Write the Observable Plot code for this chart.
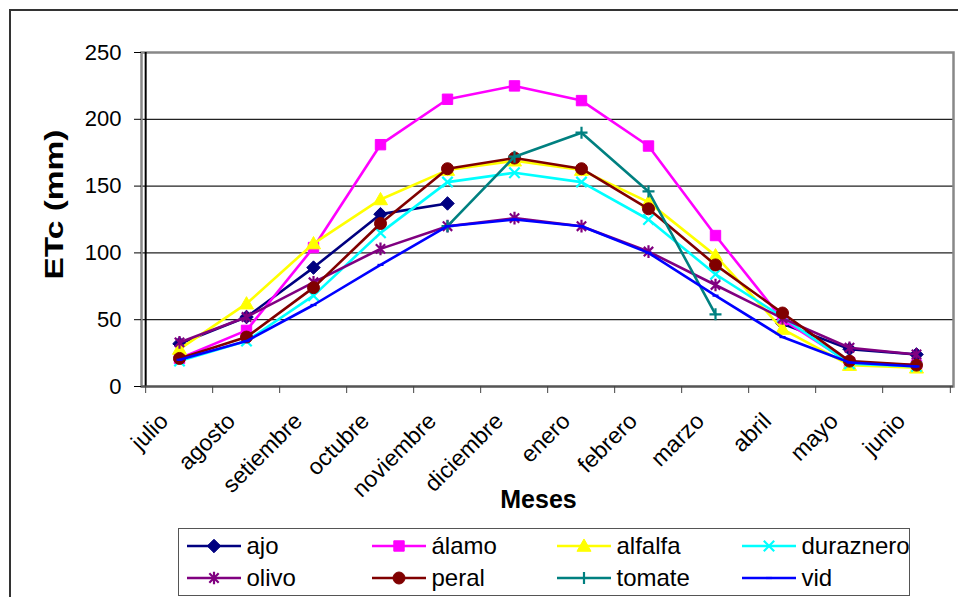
<!DOCTYPE html>
<html><head><meta charset="utf-8">
<script src="https://cdn.jsdelivr.net/npm/d3@7"></script>
<script src="https://cdn.jsdelivr.net/npm/@observablehq/plot@0.6"></script>
<style>
html,body{margin:0;padding:0;background:#fff;overflow:hidden;}
#wrap{position:relative;width:958px;height:597px;overflow:hidden;font-family:"Liberation Sans",Arial,sans-serif;}
#border{position:absolute;left:9px;top:9px;width:1000px;height:700px;border:2px solid #333;box-sizing:border-box;}
#chart{position:absolute;left:0;top:0;}
#legend{position:absolute;left:178px;top:528px;width:732px;height:68px;border:1.5px solid #555;box-sizing:border-box;background:#fff;}
.item{position:absolute;height:30px;display:flex;align-items:center;font-size:24px;color:#000;white-space:nowrap;}
.item span{margin-left:6px;}
</style></head><body>
<div id="wrap"><div id="border"></div><div id="chart"></div><div id="legend"></div></div>
<script>
// ---- data ----
const months = ["julio","agosto","setiembre","octubre","noviembre","diciembre","enero","febrero","marzo","abril","mayo","junio"];
const yTicks = [0, 50, 100, 150, 200, 250];
const seriesNames = ["ajo","álamo","alfalfa","duraznero","olivo","peral","tomate","vid"];
const ajo       = [32, 52, 89, 129, 137, null, null, null, null, 47, 28, 24];
const alamo     = [21, 42, 104, 181, 215, 225, 214, 180, 113, 50, 18, 16];
const alfalfa   = [28, 62, 107, 140, 162, 169, 162, 138, 98, 43, 16, 14];
const duraznero = [19, 34, 68, 115, 153, 160, 153, 125, 84, 52, 17, 15];
const olivo     = [33, 52, 78, 103, 120, 126, 120, 101, 76, 51, 29, 24];
const peral     = [21, 37, 74, 122, 163, 171, 163, 133, 91, 55, 19, 16];
const tomate    = [null, null, null, null, 120, 172, 190, 146, 54, null, null, null];
const vid       = [20, 34, 61, 91, 120, 125, 120, 100, 68, 37, 18, 15];
const seriesValues = [ajo, alamo, alfalfa, duraznero, olivo, peral, tomate, vid];
const colors = ["#000080","#FF00FF","#FFFF00","#00FFFF","#800080","#800000","#008080","#0000FF"];

// ---- marker symbols ----
const rad = size => Math.sqrt(size / Math.PI);
const symDiamond = {draw(c, s){const r = rad(s)*1.3; c.moveTo(0,-r); c.lineTo(r,0); c.lineTo(0,r); c.lineTo(-r,0); c.closePath();}};
const symSquare = {draw(c, s){const r = rad(s); c.rect(-r,-r,2*r,2*r);}};
const symTriangle = {draw(c, s){const r = rad(s)*1.3; c.moveTo(0,-r); c.lineTo(r,r*0.75); c.lineTo(-r,r*0.75); c.closePath();}};
const symTimes = {draw(c, s){const r = rad(s); c.moveTo(-r,-r); c.lineTo(r,r); c.moveTo(r,-r); c.lineTo(-r,r);}};
const symAsterisk = {draw(c, s){const r = rad(s), a = r*0.85; c.moveTo(-a,-a); c.lineTo(a,a); c.moveTo(a,-a); c.lineTo(-a,a); c.moveTo(0,-r*1.15); c.lineTo(0,r*1.15);}};
const symCircle = {draw(c, s){const r = rad(s); c.moveTo(r,0); c.arc(0,0,r,0,2*Math.PI);}};
const symPlus = {draw(c, s){const r = rad(s); c.moveTo(-r,0); c.lineTo(r,0); c.moveTo(0,-r); c.lineTo(0,r);}};
const symDash = {draw(c, s){const r = rad(s); c.moveTo(-r,0); c.lineTo(r,0);}};
const markers = [
  {sym: symDiamond, r: 5.2, filled: true},
  {sym: symSquare, r: 5.2, filled: true},
  {sym: symTriangle, r: 5.4, filled: true},
  {sym: symTimes, r: 5.2, filled: false},
  {sym: symAsterisk, r: 5.5, filled: false},
  {sym: symCircle, r: 6, filled: true},
  {sym: symPlus, r: 6, filled: false},
  {sym: symDash, r: 3, filled: false}
];

// ---- layout ----
const W = 958, H = 520, mL = 141, mR = 5, mT = 52, mB = 134;
const step = (W - mL - mR) / months.length;
const font = '"Liberation Sans", Arial, sans-serif';

const seriesMarks = [];
seriesNames.forEach((name, i) => {
  const rows = months.map((m, j) => ({serie: name, month: m, value: seriesValues[i][j] == null ? NaN : seriesValues[i][j]}));
  const mk = markers[i];
  seriesMarks.push(Plot.line(rows, {x: "month", y: "value", stroke: colors[i], strokeWidth: 2.6}));
  seriesMarks.push(Plot.dot(rows.filter(d => !isNaN(d.value)), {
    x: "month", y: "value", symbol: mk.sym, r: mk.r,
    fill: mk.filled ? colors[i] : "none", stroke: colors[i], strokeWidth: mk.filled ? 1 : 2.2
  }));
});

const chart = Plot.plot({
  width: W, height: H,
  marginLeft: mL, marginRight: mR, marginTop: mT, marginBottom: mB,
  style: {fontFamily: font, background: "transparent", color: "#000", overflow: "visible"},
  x: {type: "point", domain: months, padding: 0.5, align: 0.5},
  y: {domain: [0, 250]},
  marks: [
    Plot.ruleY(yTicks.filter(d => d > 0), {stroke: "#222", strokeWidth: 1.2}),
    Plot.frame({stroke: "#888", strokeWidth: 2.5}),
    Plot.ruleX([months[0]], {dx: -step / 2, stroke: "#000", strokeWidth: 2}),
    Plot.ruleY([0], {stroke: "#555", strokeWidth: 2}),
    Plot.axisY({ticks: yTicks, tickSize: 7, tickPadding: 13, fontSize: 22, label: null}),
    Plot.axisX({ticks: months, tickSize: 7, tickFormat: () => "", dx: -step / 2, label: null, stroke: "#444"}),
    Plot.axisX({ticks: [months[months.length - 1]], tickSize: 7, tickFormat: () => "", dx: step / 2, label: null, stroke: "#444"}),
    Plot.text(months, {x: d => d, text: d => d, frameAnchor: "bottom", rotate: -45, textAnchor: "end", lineAnchor: "bottom", dx: -10, dy: 36, fontSize: 23, fill: "#000"}),
    Plot.text(["Meses"], {text: d => d, frameAnchor: "bottom", lineAnchor: "bottom", dx: -9, dy: 121, fontSize: 25, fontWeight: "bold", fill: "#000"}),
    Plot.text(["ETc (mm)"], {text: d => d, frameAnchor: "left", rotate: -90, textAnchor: "middle", lineAnchor: "bottom", dx: -79, dy: -15, fontSize: 26, fontWeight: "bold", fill: "#000"}),
    ...seriesMarks
  ]
});
document.getElementById("chart").appendChild(chart);
// stretch the y-axis title to the reference length
d3.select(chart).selectAll("text").filter(function(){ return this.textContent === "ETc (mm)"; })
  .attr("textLength", 150).attr("lengthAdjust", "spacingAndGlyphs");

// ---- legend ----
const legend = document.getElementById("legend");
seriesNames.forEach((name, i) => {
  const col = i % 4, row = Math.floor(i / 4);
  const item = document.createElement("div");
  item.className = "item";
  item.style.left = (7.5 + col * 185) + "px";
  item.style.top = (2 + row * 32) + "px";
  const mk = markers[i];
  const sw = 54, sh = 30;
  const svg = d3.create("svg").attr("width", sw).attr("height", sh);
  svg.append("line").attr("x1", 0).attr("x2", sw).attr("y1", sh / 2).attr("y2", sh / 2)
     .attr("stroke", colors[i]).attr("stroke-width", 2.6);
  svg.append("path").attr("transform", `translate(${sw / 2},${sh / 2})`)
     .attr("d", d3.symbol(mk.sym, Math.PI * mk.r * mk.r)())
     .attr("fill", mk.filled ? colors[i] : "none").attr("stroke", colors[i])
     .attr("stroke-width", mk.filled ? 1 : 2.2);
  item.appendChild(svg.node());
  const span = document.createElement("span");
  span.textContent = name;
  item.appendChild(span);
  legend.appendChild(item);
});
</script>
</body></html>
